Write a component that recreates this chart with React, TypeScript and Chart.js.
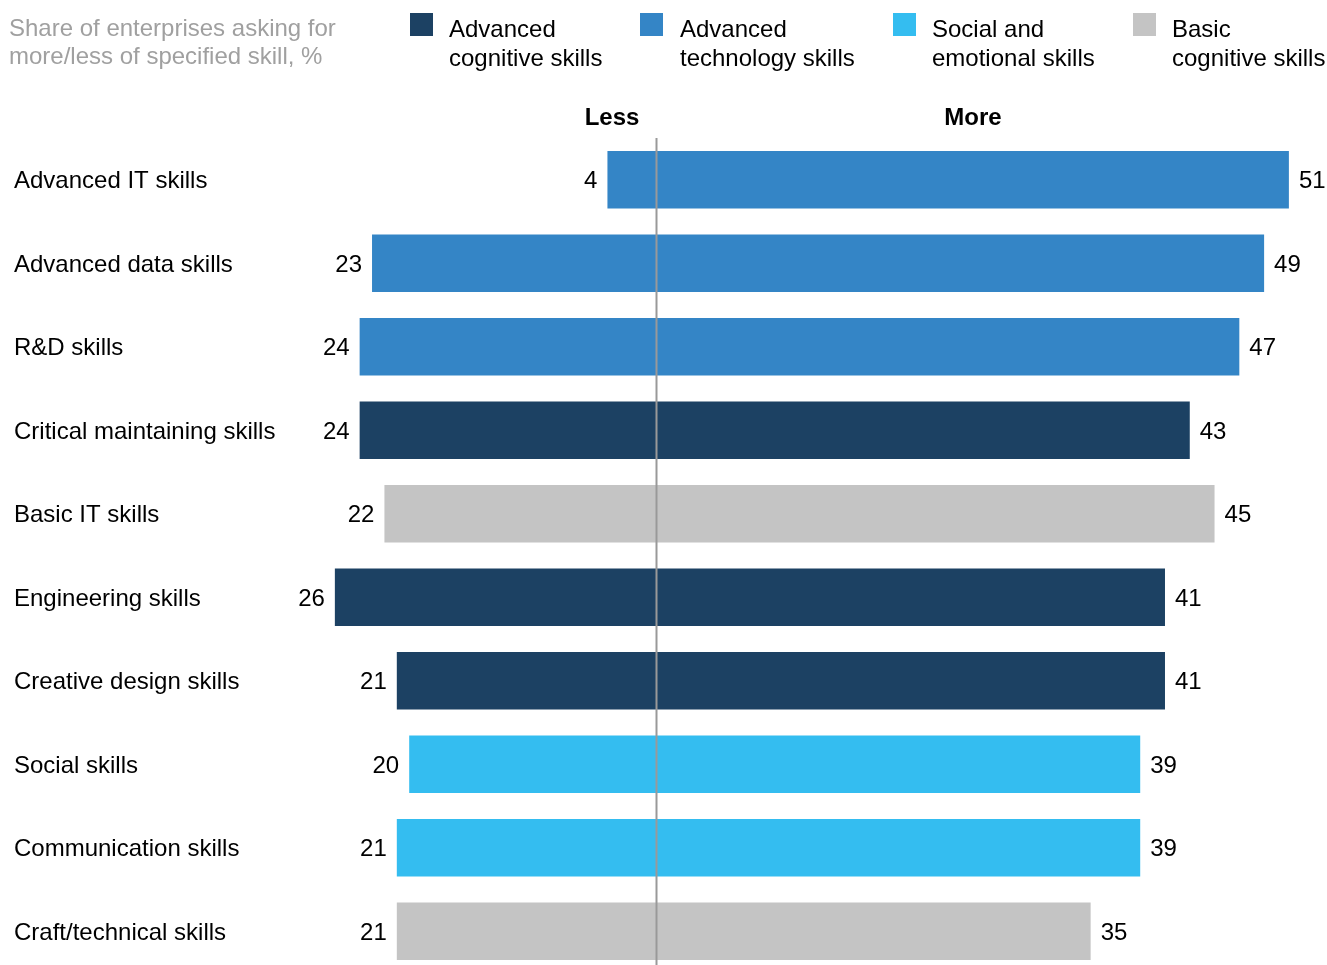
import React, { useEffect, useRef } from "react";
import { Chart, registerables } from "chart.js";

Chart.register(...registerables);

const categories = [
  "Advanced IT skills",
  "Advanced data skills",
  "R&D skills",
  "Critical maintaining skills",
  "Basic IT skills",
  "Engineering skills",
  "Creative design skills",
  "Social skills",
  "Communication skills",
  "Craft/technical skills",
];
const lessValues = [4, 23, 24, 24, 22, 26, 21, 20, 21, 21];
const moreValues = [51, 49, 47, 43, 45, 41, 41, 39, 39, 35];
const groupOf = ["tech", "tech", "tech", "cog", "basic", "cog", "cog", "social", "social", "basic"];

const groupNames = ["cog", "tech", "social", "basic"];
const groupLabels = [
  ["Advanced", "cognitive skills"],
  ["Advanced", "technology skills"],
  ["Social and", "emotional skills"],
  ["Basic", "cognitive skills"],
];
const groupColors: Record<string, string> = {
  cog: "#1c4163",
  tech: "#3485c6",
  social: "#34bdf0",
  basic: "#c4c4c4",
};

const FONT = "'Liberation Sans', Arial, sans-serif";

const labelsPlugin = {
  id: "divLabels",
  afterDatasetsDraw(chart: any) {
    const { ctx, scales, chartArea } = chart;
    const x = scales.x;
    const y = scales.y;
    ctx.save();
    const x0 = Math.round(x.getPixelForValue(0)) - 0.5;
    ctx.strokeStyle = "#999999";
    ctx.lineWidth = 2;
    ctx.beginPath();
    ctx.moveTo(x0, chartArea.top);
    ctx.lineTo(x0, chart.height);
    ctx.stroke();

    ctx.font = `24px ${FONT}`;
    ctx.fillStyle = "#000000";
    ctx.textBaseline = "middle";
    categories.forEach((c, i) => {
      const py = y.getPixelForValue(i) + 2;
      ctx.textAlign = "left";
      ctx.fillText(c, 14, py);
      const pr = x.getPixelForValue(moreValues[i]);
      ctx.fillText(String(moreValues[i]), pr + 10, py);
      const pl = x.getPixelForValue(-lessValues[i]);
      ctx.textAlign = "right";
      ctx.fillText(String(lessValues[i]), pl - 10, py);
    });
    ctx.restore();
  },
};

export default function App() {
  const ref = useRef<HTMLCanvasElement | null>(null);

  useEffect(() => {
    if (!ref.current) return;
    const colors = groupOf.map((g) => groupColors[g]);
    const center = 657;
    const ppu = 12.39;
    const chart = new Chart(ref.current, {
      type: "bar",
      data: {
        labels: categories,
        datasets: [
          {
            label: "Less",
            data: lessValues.map((v) => -v),
            backgroundColor: colors,
            borderWidth: 0,
            barPercentage: 0.687,
            categoryPercentage: 1,
          },
          {
            label: "More",
            data: moreValues,
            backgroundColor: colors,
            borderWidth: 0,
            barPercentage: 0.687,
            categoryPercentage: 1,
          },
        ],
      },
      options: {
        indexAxis: "y",
        responsive: false,
        animation: false,
        devicePixelRatio: 1,
        layout: { padding: { top: 138, bottom: 2, left: 0, right: 0 } },
        plugins: {
          legend: { display: false },
          tooltip: { enabled: false },
          title: { display: false },
        },
        scales: {
          x: {
            display: false,
            stacked: true,
            min: -center / ppu,
            max: (1327 - center) / ppu,
          },
          y: {
            display: false,
            stacked: true,
          },
        },
      },
      plugins: [labelsPlugin],
    });
    return () => chart.destroy();
  }, []);

  const legendX = [410, 640, 893, 1133];
  const textX = [449, 680, 932, 1172];

  return (
    <div
      style={{
        position: "fixed",
        left: 0,
        top: 0,
        width: 1327,
        height: 965,
        overflow: "hidden",
        background: "#ffffff",
        fontFamily: FONT,
      }}
    >
      <canvas ref={ref} width={1327} height={975} style={{ position: "absolute", left: 0, top: 0, width: 1327, height: 975 }} />
      <div
        style={{
          position: "absolute",
          left: 9,
          top: 14,
          fontSize: 24,
          lineHeight: "28px",
          color: "#a0a0a0",
          whiteSpace: "nowrap",
        }}
      >
        Share of enterprises asking for
        <br />
        more/less of specified skill, %
      </div>
      {groupNames.map((g, i) => (
        <React.Fragment key={g}>
          <div
            style={{
              position: "absolute",
              left: legendX[i],
              top: 13,
              width: 23,
              height: 23,
              background: groupColors[g],
            }}
          />
          <div
            style={{
              position: "absolute",
              left: textX[i],
              top: 14,
              fontSize: 24,
              lineHeight: "29px",
              color: "#000",
              whiteSpace: "nowrap",
            }}
          >
            {groupLabels[i][0]}
            <br />
            {groupLabels[i][1]}
          </div>
        </React.Fragment>
      ))}
      <div
        style={{
          position: "absolute",
          left: 562,
          width: 100,
          top: 102,
          textAlign: "center",
          fontSize: 24,
          fontWeight: "bold",
          lineHeight: "30px",
          color: "#000",
        }}
      >
        Less
      </div>
      <div
        style={{
          position: "absolute",
          left: 923,
          width: 100,
          top: 102,
          textAlign: "center",
          fontSize: 24,
          fontWeight: "bold",
          lineHeight: "30px",
          color: "#000",
        }}
      >
        More
      </div>
    </div>
  );
}
